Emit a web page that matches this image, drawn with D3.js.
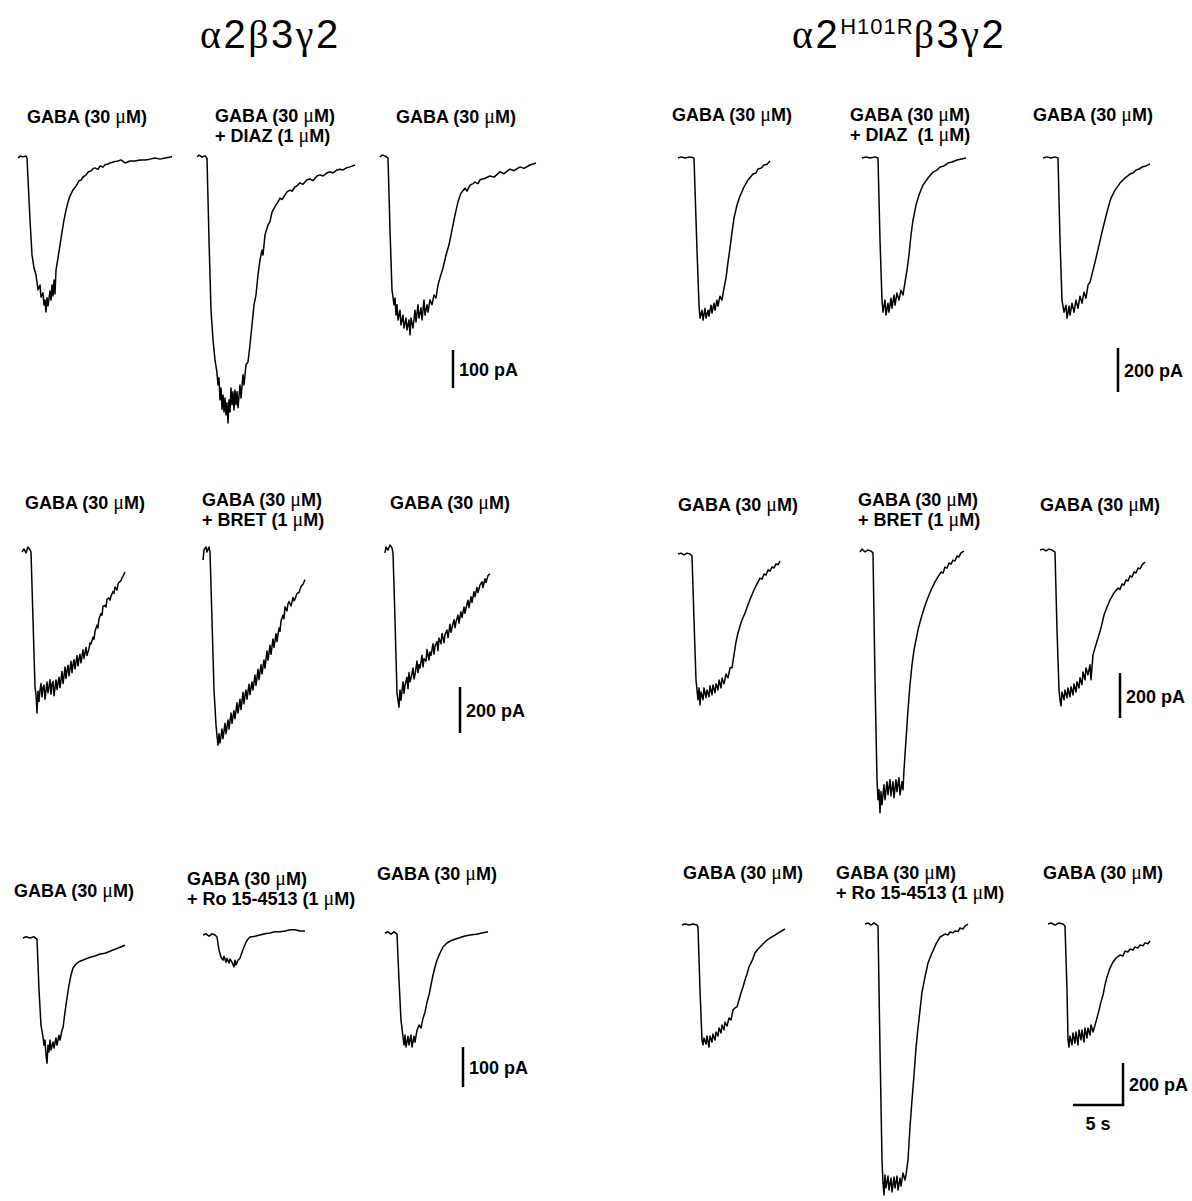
<!DOCTYPE html>
<html>
<head>
<meta charset="utf-8">
<script src="https://cdn.jsdelivr.net/npm/d3@7/dist/d3.min.js"></script>
<style>
  body { margin: 0; background: #fff; }
  svg { display: block; }
  .lbl { font-family: "Liberation Sans", Arial, Helvetica, sans-serif; font-weight: bold; font-size: 18px; fill: #000; }
  .ttl { font-family: "Liberation Sans", Arial, Helvetica, sans-serif; font-size: 40px; letter-spacing: 2.5px; fill: #000; }
  .gr { font-family: "Liberation Serif", "Times New Roman", serif; }
  .mu { font-family: "Liberation Serif", "Times New Roman", serif; font-weight: normal; font-size: 20px; }
  .trace { fill: none; stroke: #000; stroke-width: 1.5; stroke-linejoin: round; }
  .bar { fill: none; stroke: #000; stroke-width: 2.5; }
</style>
</head>
<body>
<div id="chart"></div>
<script>
// currents in pA (inward = negative) against time in s

// alpha2 beta3 gamma2 : GABA / GABA + DIAZ / GABA
var wtDiaz1 = [[0,0],[0.2,5],[0.5,3],[0.8,5],[0.9,0],[1.2,-163],[1.4,-255],[1.6,-289],[1.8,-308],[2.0,-347],[2.2,-334],[2.3,-366],[2.5,-355],[2.6,-387],[2.7,-374],[2.8,-405],[2.9,-368],[3.0,-389],[3.2,-350],[3.3,-374],[3.4,-334],[3.5,-363],[3.6,-321],[3.7,-358],[3.8,-295],[4.0,-263],[4.2,-229],[4.4,-195],[4.6,-163],[4.8,-137],[5.0,-116],[5.2,-100],[5.5,-84],[5.8,-74],[6.1,-60],[6.3,-58],[6.5,-50],[6.8,-45],[7.0,-37],[7.3,-34],[7.5,-28],[7.7,-26],[8.0,-30],[8.2,-21],[8.5,-24],[8.7,-18],[9.0,-16],[9.2,-13],[9.6,-10],[10.0,-8],[10.3,-5],[10.7,-13],[11.2,-8],[11.7,-8],[12.2,-5],[12.7,-5],[13.2,-3],[13.7,0],[14.2,-3],[14.7,0],[15.4,3]];
var wtDiaz2 = [[0,0],[0.2,5],[0.5,0],[0.8,3],[1.0,-3],[1.2,-218],[1.4,-402],[1.6,-481],[1.8,-534],[2.0,-568],[2.1,-600],[2.2,-581],[2.3,-639],[2.4,-608],[2.5,-664],[2.6,-626],[2.7,-671],[2.8,-634],[2.9,-679],[3.0,-647],[3.1,-700],[3.2,-639],[3.3,-671],[3.4,-608],[3.5,-652],[3.6,-618],[3.7,-666],[3.8,-613],[3.9,-652],[4.0,-618],[4.1,-660],[4.3,-600],[4.4,-634],[4.6,-573],[4.7,-600],[4.9,-547],[5.1,-539],[5.3,-494],[5.5,-442],[5.7,-389],[5.9,-363],[6.1,-310],[6.3,-271],[6.5,-245],[6.6,-258],[6.8,-205],[7.1,-179],[7.3,-170],[7.5,-145],[7.9,-126],[8.1,-118],[8.3,-108],[8.5,-112],[8.8,-100],[9.0,-92],[9.3,-87],[9.5,-90],[9.8,-79],[10.0,-76],[10.3,-68],[10.6,-72],[11.0,-60],[11.3,-58],[11.6,-62],[12.0,-50],[12.3,-47],[12.6,-50],[13.0,-42],[13.3,-39],[13.6,-42],[14.0,-34],[14.3,-32],[14.6,-34],[15.0,-28],[15.3,-26],[15.8,-21]];
var wtDiaz3 = [[0,0],[0.2,5],[0.5,3],[0.8,-3],[1.0,-192],[1.2,-350],[1.4,-389],[1.5,-371],[1.6,-416],[1.7,-389],[1.8,-429],[2.0,-403],[2.1,-442],[2.3,-416],[2.4,-450],[2.6,-424],[2.7,-455],[2.9,-429],[3.0,-468],[3.1,-424],[3.3,-450],[3.5,-403],[3.6,-434],[3.8,-389],[3.9,-424],[4.1,-397],[4.2,-429],[4.4,-376],[4.5,-416],[4.7,-389],[4.8,-408],[5.0,-376],[5.2,-389],[5.4,-363],[5.6,-371],[5.8,-337],[6.0,-318],[6.3,-292],[6.6,-258],[6.9,-231],[7.2,-192],[7.5,-153],[7.8,-118],[8.1,-95],[8.5,-82],[8.7,-90],[9.0,-74],[9.3,-70],[9.5,-66],[9.8,-70],[10.0,-60],[10.5,-56],[11.0,-50],[11.4,-53],[12.0,-39],[12.4,-44],[13.0,-32],[13.4,-36],[14.0,-26],[14.4,-30],[15.0,-21],[15.6,-16]];

// alpha2(H101R) beta3 gamma2 : GABA / GABA + DIAZ / GABA
var mutDiaz1 = [[0,0],[0.3,5],[0.7,0],[1.2,5],[1.6,0],[1.9,-419],[2.1,-669],[2.2,-728],[2.4,-692],[2.5,-737],[2.7,-683],[2.8,-728],[3.0,-692],[3.1,-719],[3.3,-669],[3.4,-705],[3.6,-660],[3.7,-692],[3.9,-646],[4.0,-673],[4.2,-628],[4.4,-646],[4.6,-592],[4.8,-546],[5.0,-473],[5.2,-410],[5.4,-337],[5.6,-273],[5.9,-214],[6.2,-173],[6.6,-132],[7.0,-100],[7.5,-73],[7.8,-68],[8.0,-50],[8.3,-46],[8.6,-32],[8.9,-28],[9.2,-14]];
var mutDiaz2 = [[0,0],[0.4,5],[0.8,0],[1.3,5],[1.6,0],[1.8,-373],[2.0,-646],[2.1,-701],[2.3,-646],[2.4,-714],[2.6,-660],[2.7,-701],[2.9,-637],[3.0,-683],[3.2,-623],[3.3,-669],[3.5,-614],[3.7,-646],[3.9,-601],[4.1,-623],[4.3,-564],[4.5,-510],[4.7,-441],[4.9,-350],[5.1,-282],[5.4,-214],[5.7,-168],[6.1,-123],[6.6,-91],[7.1,-64],[7.5,-55],[7.8,-41],[8.2,-36],[8.6,-23],[9.0,-18],[9.5,-9],[10.4,0]];
var mutDiaz3 = [[0,0],[0.4,5],[0.8,0],[1.2,5],[1.5,0],[1.7,-373],[1.9,-646],[2.1,-701],[2.3,-669],[2.4,-728],[2.6,-673],[2.7,-714],[2.9,-660],[3.1,-701],[3.3,-646],[3.5,-683],[3.7,-628],[3.9,-660],[4.1,-610],[4.3,-637],[4.5,-578],[4.7,-564],[5.0,-510],[5.3,-455],[5.6,-396],[5.9,-337],[6.2,-282],[6.5,-228],[6.8,-182],[7.2,-146],[7.7,-114],[8.2,-91],[8.7,-73],[9.0,-68],[9.3,-55],[9.6,-50],[9.9,-41],[10.3,-36],[10.7,-27]];

// alpha2 beta3 gamma2 : GABA / GABA + BRET / GABA
var wtBret1 = [[0,0],[0.2,13],[0.4,-4],[0.6,22],[0.8,9],[0.9,0],[1.1,-296],[1.3,-587],[1.4,-622],[1.5,-700],[1.6,-605],[1.7,-650],[1.8,-600],[1.9,-572],[2.0,-630],[2.1,-590],[2.2,-578],[2.3,-640],[2.5,-565],[2.6,-612],[2.7,-585],[2.8,-555],[2.9,-618],[3.0,-575],[3.1,-562],[3.2,-625],[3.4,-556],[3.5,-598],[3.6,-570],[3.7,-545],[3.8,-590],[4.0,-520],[4.1,-572],[4.2,-540],[4.3,-500],[4.4,-550],[4.5,-515],[4.6,-492],[4.7,-538],[4.9,-475],[5.0,-525],[5.1,-490],[5.2,-468],[5.3,-508],[5.5,-450],[5.6,-495],[5.7,-465],[5.8,-445],[5.9,-482],[6.1,-425],[6.2,-463],[6.3,-440],[6.4,-415],[6.5,-450],[6.7,-420],[6.8,-395],[6.9,-400],[7.1,-370],[7.2,-380],[7.3,-345],[7.5,-318],[7.6,-330],[7.7,-290],[7.9,-268],[8.0,-275],[8.1,-236],[8.3,-232],[8.4,-240],[8.5,-205],[8.7,-200],[8.8,-210],[8.9,-192],[9.1,-172],[9.2,-180],[9.3,-152],[9.5,-166],[9.6,-140],[9.7,-132],[9.9,-125],[10.0,-112],[10.1,-106],[10.3,-87]];
var wtBret2 = [[0,-35],[0.1,9],[0.3,22],[0.4,0],[0.6,22],[0.7,0],[0.9,-296],[1.1,-600],[1.3,-752],[1.4,-800],[1.5,-840],[1.6,-790],[1.7,-830],[1.8,-800],[1.9,-770],[2.0,-812],[2.2,-745],[2.3,-790],[2.4,-760],[2.5,-730],[2.6,-770],[2.8,-700],[2.9,-745],[3.0,-715],[3.1,-690],[3.2,-725],[3.4,-655],[3.5,-700],[3.6,-670],[3.7,-640],[3.8,-685],[4.0,-610],[4.1,-660],[4.2,-625],[4.3,-600],[4.4,-640],[4.6,-575],[4.7,-620],[4.8,-590],[4.9,-565],[5.0,-600],[5.2,-535],[5.3,-580],[5.4,-545],[5.5,-510],[5.6,-555],[5.8,-490],[5.9,-530],[6.0,-500],[6.1,-470],[6.2,-505],[6.4,-430],[6.5,-470],[6.6,-440],[6.7,-405],[6.8,-445],[7.0,-378],[7.1,-415],[7.2,-385],[7.3,-355],[7.4,-390],[7.6,-330],[7.7,-345],[7.8,-300],[8.0,-275],[8.1,-290],[8.2,-238],[8.4,-256],[8.5,-225],[8.6,-215],[8.8,-235],[9.0,-198],[9.1,-212],[9.2,-205],[9.4,-180],[9.6,-176],[9.8,-150],[10.0,-140],[10.2,-120]];
var wtBret3 = [[0,0],[0.1,26],[0.3,13],[0.5,35],[0.7,22],[0.8,0],[1.0,-291],[1.2,-609],[1.3,-640],[1.4,-670],[1.5,-596],[1.6,-640],[1.7,-600],[1.8,-560],[1.9,-610],[2.0,-575],[2.2,-540],[2.3,-590],[2.4,-520],[2.5,-560],[2.6,-545],[2.8,-500],[2.9,-548],[3.0,-530],[3.2,-470],[3.3,-520],[3.4,-485],[3.5,-500],[3.7,-445],[3.8,-495],[3.9,-460],[4.1,-470],[4.2,-420],[4.4,-465],[4.5,-430],[4.6,-445],[4.8,-395],[4.9,-440],[5.0,-405],[5.2,-385],[5.3,-425],[5.4,-370],[5.6,-395],[5.7,-350],[5.9,-390],[6.0,-355],[6.2,-335],[6.3,-368],[6.5,-310],[6.6,-345],[6.7,-325],[6.9,-290],[7.0,-325],[7.1,-300],[7.3,-270],[7.4,-305],[7.6,-255],[7.7,-280],[7.9,-235],[8.0,-262],[8.1,-240],[8.3,-205],[8.4,-238],[8.6,-190],[8.7,-215],[8.9,-168],[9.0,-190],[9.2,-150],[9.3,-172],[9.5,-140],[9.7,-125],[9.8,-150],[10.0,-112],[10.1,-128],[10.3,-98],[10.5,-91]];

// alpha2(H101R) beta3 gamma2 : GABA / GABA + BRET / GABA
var mutBret1 = [[0,0],[0.3,4],[0.6,-4],[0.9,4],[1.2,0],[1.4,-9],[1.6,-293],[1.8,-560],[1.9,-604],[2.0,-648],[2.1,-595],[2.2,-671],[2.3,-613],[2.5,-648],[2.6,-595],[2.8,-639],[2.9,-604],[3.1,-635],[3.2,-586],[3.4,-626],[3.5,-582],[3.7,-617],[3.8,-577],[4.0,-604],[4.1,-560],[4.3,-595],[4.4,-551],[4.6,-577],[4.8,-533],[5.0,-551],[5.2,-506],[5.4,-506],[5.6,-448],[5.8,-391],[6.0,-351],[6.2,-320],[6.4,-293],[6.7,-262],[7.0,-226],[7.3,-191],[7.6,-160],[7.9,-133],[8.2,-107],[8.4,-112],[8.6,-89],[8.8,-94],[9.0,-71],[9.2,-76],[9.4,-58],[9.6,-62],[9.8,-44],[10.0,-48],[10.2,-31]];
var mutBret2 = [[0,0],[0.2,13],[0.5,0],[0.8,9],[1.1,4],[1.3,-4],[1.5,-568],[1.7,-1012],[1.8,-1101],[1.9,-1057],[2.0,-1159],[2.1,-1065],[2.2,-1123],[2.4,-1034],[2.5,-1101],[2.7,-1021],[2.8,-1079],[3.0,-1012],[3.1,-1083],[3.3,-1021],[3.4,-1092],[3.6,-1012],[3.7,-1065],[3.9,-1003],[4.0,-1079],[4.2,-1021],[4.3,-1057],[4.4,-968],[4.6,-835],[4.8,-701],[5.0,-590],[5.2,-502],[5.4,-435],[5.6,-391],[5.8,-346],[6.0,-311],[6.3,-266],[6.6,-226],[6.9,-191],[7.2,-160],[7.5,-133],[7.8,-111],[8.1,-89],[8.3,-94],[8.5,-67],[8.7,-72],[8.9,-49],[9.1,-54],[9.3,-36],[9.5,-40],[9.7,-18],[9.9,-22],[10.1,-4],[10.4,4]];
var mutBret3 = [[0,0],[0.3,4],[0.6,-4],[0.9,4],[1.2,0],[1.5,-9],[1.7,-355],[1.9,-622],[2.0,-666],[2.1,-693],[2.2,-631],[2.4,-666],[2.5,-622],[2.7,-657],[2.8,-613],[3.0,-653],[3.1,-608],[3.3,-644],[3.4,-595],[3.6,-631],[3.7,-586],[3.9,-613],[4.0,-568],[4.2,-599],[4.3,-542],[4.5,-577],[4.6,-524],[4.8,-555],[5.0,-510],[5.1,-577],[5.3,-466],[5.5,-435],[5.8,-391],[6.1,-346],[6.4,-289],[6.7,-253],[7.0,-222],[7.4,-191],[7.8,-169],[8.0,-175],[8.2,-151],[8.4,-156],[8.6,-133],[8.8,-138],[9.0,-115],[9.2,-120],[9.4,-98],[9.6,-102],[9.8,-80],[10.0,-84],[10.2,-67],[10.5,-53]];

// alpha2 beta3 gamma2 : GABA / GABA + Ro 15-4513 / GABA
var wtRo1 = [[0,0],[0.3,3],[0.7,0],[1.1,3],[1.4,-3],[1.6,-130],[1.8,-218],[2.0,-248],[2.1,-268],[2.2,-255],[2.3,-293],[2.4,-313],[2.5,-268],[2.6,-285],[2.7,-255],[2.8,-280],[3.0,-260],[3.1,-275],[3.3,-250],[3.4,-268],[3.6,-243],[3.7,-255],[3.9,-230],[4.0,-225],[4.2,-185],[4.4,-150],[4.6,-118],[4.8,-93],[5.0,-75],[5.3,-65],[5.7,-58],[6.2,-53],[6.7,-48],[7.2,-45],[7.7,-40],[8.2,-38],[8.7,-33],[9.2,-28],[9.7,-23],[10.2,-18]];
var wtRo2 = [[0,0],[0.3,3],[0.6,-3],[0.9,3],[1.2,0],[1.4,-5],[1.6,-38],[1.8,-55],[2.0,-63],[2.1,-53],[2.3,-68],[2.4,-58],[2.6,-70],[2.7,-60],[2.9,-68],[3.1,-80],[3.2,-63],[3.3,-75],[3.5,-63],[3.7,-58],[3.9,-43],[4.1,-30],[4.3,-18],[4.5,-10],[4.7,-5],[5.2,-3],[5.7,0],[6.2,3],[6.7,5],[7.2,8],[7.7,8],[8.2,10],[8.7,13],[9.2,13],[9.7,10],[10.2,10]];
var wtRo3 = [[0,0],[0.3,3],[0.6,-3],[0.9,3],[1.2,-3],[1.4,-118],[1.6,-218],[1.8,-260],[1.9,-280],[2.0,-255],[2.1,-285],[2.3,-258],[2.4,-280],[2.6,-255],[2.7,-285],[2.9,-258],[3.0,-273],[3.2,-243],[3.4,-230],[3.6,-238],[3.8,-213],[4.0,-198],[4.2,-173],[4.4,-155],[4.6,-130],[4.8,-105],[5.0,-85],[5.2,-68],[5.5,-50],[5.8,-35],[6.2,-25],[6.7,-18],[7.3,-13],[7.9,-8],[8.5,-5],[9.1,-3],[9.7,0],[10.3,3]];

// alpha2(H101R) beta3 gamma2 : GABA / GABA + Ro 15-4513 / GABA
var mutRo1 = [[0,0],[0.3,5],[0.7,0],[1.1,5],[1.5,0],[1.6,-10],[1.8,-310],[2.0,-548],[2.1,-571],[2.2,-538],[2.4,-567],[2.5,-529],[2.7,-581],[2.8,-529],[3.0,-557],[3.1,-519],[3.3,-548],[3.4,-510],[3.6,-529],[3.7,-490],[3.9,-514],[4.0,-476],[4.2,-500],[4.3,-462],[4.5,-481],[4.7,-443],[4.9,-452],[5.1,-405],[5.3,-395],[5.5,-390],[5.7,-357],[5.9,-324],[6.1,-295],[6.3,-262],[6.5,-233],[6.7,-200],[7.0,-171],[7.3,-133],[7.6,-114],[8.0,-95],[8.4,-76],[8.8,-62],[9.3,-48],[9.8,-33],[10.3,-19]];
var mutRo2 = [[0,0],[0.3,5],[0.6,-5],[0.9,5],[1.2,-5],[1.3,-10],[1.5,-600],[1.7,-1124],[1.8,-1233],[1.9,-1290],[2.0,-1195],[2.1,-1257],[2.3,-1200],[2.4,-1267],[2.6,-1210],[2.7,-1276],[2.9,-1205],[3.0,-1257],[3.2,-1200],[3.3,-1267],[3.5,-1210],[3.6,-1248],[3.8,-1186],[4.0,-1219],[4.1,-1195],[4.3,-1124],[4.5,-967],[4.7,-838],[4.9,-719],[5.1,-590],[5.3,-495],[5.5,-410],[5.7,-324],[6.0,-252],[6.3,-186],[6.7,-138],[7.1,-95],[7.5,-62],[8.0,-48],[8.3,-52],[8.5,-38],[8.8,-42],[9.0,-33],[9.3,-36],[9.5,-19],[9.8,-24],[10.0,-10],[10.3,0]];
var mutRo3 = [[0,0],[0.3,5],[0.7,-5],[1.1,5],[1.5,0],[1.7,-10],[1.9,-314],[2.0,-552],[2.1,-586],[2.2,-533],[2.4,-576],[2.5,-519],[2.7,-567],[2.8,-514],[3.0,-576],[3.1,-505],[3.3,-552],[3.4,-505],[3.6,-562],[3.7,-495],[3.9,-543],[4.0,-495],[4.2,-529],[4.3,-481],[4.5,-514],[4.7,-481],[4.9,-448],[5.1,-410],[5.3,-371],[5.5,-338],[5.7,-290],[5.9,-252],[6.2,-210],[6.5,-181],[6.8,-162],[7.2,-148],[7.5,-152],[7.7,-129],[8.0,-133],[8.2,-119],[8.5,-124],[8.7,-110],[9.0,-114],[9.2,-100],[9.5,-104],[9.7,-90],[10.0,-94],[10.2,-81]];

var titles = ['α2β3γ2', 'α2H101Rβ3γ2'];
var gabaLabel = ['GABA (30 μM)'];
var diazLabel = ['GABA (30 μM)', '+ DIAZ (1 μM)'];
var diazLabelMut = ['GABA (30 μM)', '+ DIAZ  (1 μM)'];
var bretLabel = ['GABA (30 μM)', '+ BRET (1 μM)'];
var roLabel = ['GABA (30 μM)', '+ Ro 15-4513 (1 μM)'];

// layout: trace origin (x0,y0), px per pA, label anchor
var rows = [
  { k: 0.38, bar: { x: 453, y: 350, amp: 100 }, traces: [
    { d: wtDiaz1, x0: 18,  y0: 158, lx: 27,  ly: 123, txt: gabaLabel },
    { d: wtDiaz2, x0: 197, y0: 157, lx: 215, ly: 122, txt: diazLabel },
    { d: wtDiaz3, x0: 380, y0: 157, lx: 396, ly: 123, txt: gabaLabel } ] },
  { k: 0.22, bar: { x: 1118, y: 348, amp: 200 }, traces: [
    { d: mutDiaz1, x0: 678,  y0: 158, lx: 672,  ly: 121, txt: gabaLabel },
    { d: mutDiaz2, x0: 862,  y0: 158, lx: 850,  ly: 121, txt: diazLabelMut },
    { d: mutDiaz3, x0: 1043, y0: 158, lx: 1033, ly: 121, txt: gabaLabel } ] },
  { k: 0.23, bar: { x: 460, y: 687, amp: 200 }, traces: [
    { d: wtBret1, x0: 22,  y0: 552, lx: 25,  ly: 509, txt: gabaLabel },
    { d: wtBret2, x0: 203, y0: 552, lx: 202, ly: 506, txt: bretLabel },
    { d: wtBret3, x0: 385, y0: 553, lx: 390, ly: 509, txt: gabaLabel } ] },
  { k: 0.225, bar: { x: 1120, y: 673, amp: 200 }, traces: [
    { d: mutBret1, x0: 678,  y0: 554, lx: 678,  ly: 511, txt: gabaLabel },
    { d: mutBret2, x0: 860,  y0: 552, lx: 858,  ly: 506, txt: bretLabel },
    { d: mutBret3, x0: 1040, y0: 550, lx: 1040, ly: 511, txt: gabaLabel } ] },
  { k: 0.40, bar: { x: 463, y: 1047, amp: 100 }, traces: [
    { d: wtRo1, x0: 23,  y0: 938, lx: 14,  ly: 897, txt: gabaLabel },
    { d: wtRo2, x0: 203, y0: 935, lx: 187, ly: 885, txt: roLabel },
    { d: wtRo3, x0: 385, y0: 933, lx: 377, ly: 880, txt: gabaLabel } ] },
  { k: 0.21, bar: { x: 1123, y: 1063, amp: 200, time: 5 }, traces: [
    { d: mutRo1, x0: 682,  y0: 925, lx: 683,  ly: 879, txt: gabaLabel },
    { d: mutRo2, x0: 865,  y0: 924, lx: 836,  ly: 879, txt: roLabel },
    { d: mutRo3, x0: 1048, y0: 924, lx: 1043, ly: 879, txt: gabaLabel } ] }
];

var pxPerSec = 10;

var svg = d3.select('#chart').append('svg')
  .attr('width', 1192)
  .attr('height', 1201);

// titles
var t1 = svg.append('text').attr('class', 'ttl').attr('x', 200).attr('y', 48);
t1.append('tspan').attr('class', 'gr').text(titles[0][0]);
t1.append('tspan').text('2');
t1.append('tspan').attr('class', 'gr').text(titles[0][2]);
t1.append('tspan').text('3');
t1.append('tspan').attr('class', 'gr').text(titles[0][4]);
t1.append('tspan').text('2');

var t2 = svg.append('text').attr('class', 'ttl').attr('x', 792).attr('y', 48);
t2.append('tspan').attr('class', 'gr').text(titles[1][0]);
t2.append('tspan').text('2');
t2.append('tspan').attr('dy', -14).style('font-size', '22px').style('letter-spacing', '1px').text(titles[1].slice(2, 7));
t2.append('tspan').attr('dy', 14).attr('class', 'gr').text(titles[1][7]);
t2.append('tspan').text('3');
t2.append('tspan').attr('class', 'gr').text(titles[1][9]);
t2.append('tspan').text('2');

function addLabel(x, y, str) {
  var parts = str.split('μ');
  var t = svg.append('text').attr('class', 'lbl').attr('x', x).attr('y', y).attr('xml:space', 'preserve');
  t.append('tspan').text(parts[0]);
  if (parts.length > 1) {
    t.append('tspan').attr('class', 'mu').text('μ');
    t.append('tspan').text(parts[1]);
  }
}

rows.forEach(function(row) {
  var yScale;
  row.traces.forEach(function(tr) {
    var x = d3.scaleLinear().domain([0, 10]).range([tr.x0, tr.x0 + 10 * pxPerSec]);
    var y = d3.scaleLinear().domain([0, -100]).range([tr.y0, tr.y0 + 100 * row.k]);
    yScale = y;

    var line = d3.line()
      .x(function(d) { return x(d[0]); })
      .y(function(d) { return y(d[1]); });

    svg.append('path')
      .attr('class', 'trace')
      .attr('d', line(tr.d));

    tr.txt.forEach(function(s, i) {
      addLabel(tr.lx, tr.ly + i * 20, s);
    });
  });

  // scale bar
  var b = row.bar;
  var h = yScale(-b.amp) - yScale(0);
  svg.append('line').attr('class', 'bar')
    .attr('x1', b.x).attr('x2', b.x)
    .attr('y1', b.y).attr('y2', b.y + h);
  svg.append('text').attr('class', 'lbl')
    .attr('x', b.x + 6).attr('y', b.y + h / 2 + 7)
    .text(b.amp + ' pA');

  if (b.time) {
    var w = b.time * pxPerSec;
    svg.append('line').attr('class', 'bar')
      .attr('x1', b.x - w).attr('x2', b.x + 1.25)
      .attr('y1', b.y + h).attr('y2', b.y + h);
    svg.append('text').attr('class', 'lbl')
      .attr('x', b.x - w / 2).attr('y', b.y + h + 25)
      .attr('text-anchor', 'middle')
      .text(b.time + ' s');
  }
});
</script>
</body>
</html>
